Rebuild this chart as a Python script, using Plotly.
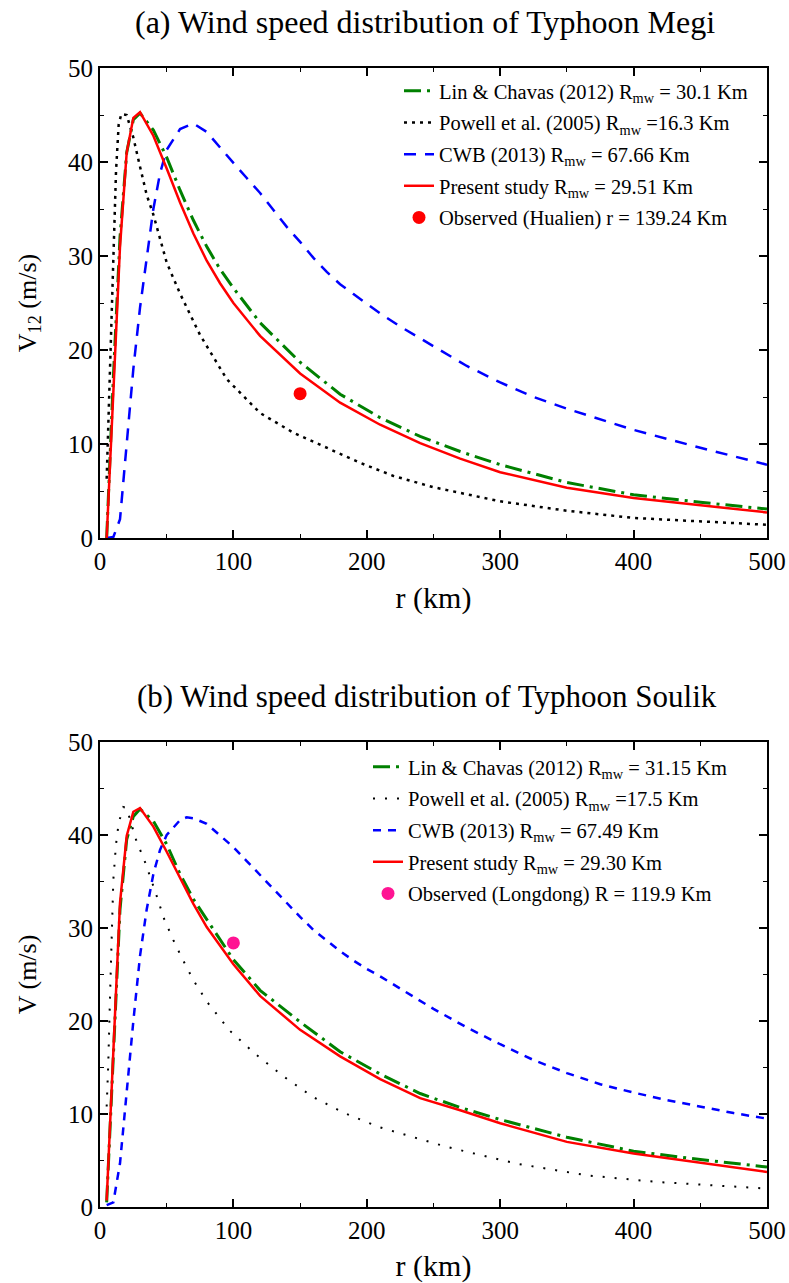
import plotly.graph_objects as go

W, H = 789, 1283
FONT = "Liberation Serif"

# ---------------- (a) Typhoon Megi ----------------
r_lin_a = [5, 10, 15, 20, 25, 30, 40, 50, 60, 70, 80, 90, 100, 120, 150, 180, 210, 240, 270, 300, 350, 400, 450, 500]
v_lin_a = [0, 17, 32, 41, 44.5, 45.2, 43.4, 40.5, 37, 33.8, 31, 28.6, 26.6, 22.9, 18.7, 15.3, 12.8, 10.8, 9.2, 7.8, 5.9, 4.6, 3.8, 3.08]

r_pow_a = [5, 6, 8, 10, 12, 14, 16, 20, 25, 30, 35, 40, 50, 60, 75, 95, 120, 145, 170, 195, 220, 250, 300, 350, 400, 450, 500]
v_pow_a = [6.3, 11, 22.5, 31, 39, 44, 45.1, 45, 42.6, 39.5, 36.5, 34.4, 29.3, 26.0, 21.6, 16.9, 13.3, 11.2, 9.6, 8.0, 6.6, 5.4, 3.9, 2.9, 2.13, 1.75, 1.41]

r_cwb_a = [5, 10, 15, 20, 25, 30, 35, 40, 45, 50, 60, 70, 80, 90, 100, 110, 120, 130, 140, 150, 160, 170, 180, 190, 200,
           210, 225, 250, 275, 300, 325, 350, 375, 400, 450, 500]
v_cwb_a = [0, 0.1, 2, 10, 18, 24.5, 30, 35, 38.8, 41.3, 43.5, 44.1, 43.2, 41.5, 39.9, 38.3, 36.7, 34.9, 33.1, 31.5, 29.8, 28.3,
           27.0, 25.95, 24.9, 23.9, 22.5, 20.4, 18.3, 16.55, 15.0, 13.75, 12.6, 11.5, 9.6, 7.8]

r_pre_a = [5, 10, 15, 20, 25, 30, 40, 50, 60, 70, 80, 90, 100, 120, 150, 180, 210, 240, 270, 300, 350, 400, 450, 500]
v_pre_a = [0, 16, 31, 41, 44.7, 45.3, 42.8, 39.3, 35.7, 32.4, 29.5, 27.1, 25.0, 21.5, 17.5, 14.4, 12.05, 10.1, 8.45, 7.0, 5.35, 4.25, 3.48, 2.72]

r_obs_a = [150]
v_obs_a = [15.35]

# ---------------- (b) Typhoon Soulik ----------------
r_lin_b = [5, 10, 15, 20, 25, 30, 40, 50, 60, 70, 80, 90, 100, 120, 150, 180, 210, 240, 270, 300, 350, 400, 450, 500]
v_lin_b = [0.5, 17, 32, 39.5, 42, 42.8, 41.5, 39.0, 35.8, 33.1, 30.9, 28.7, 26.6, 23.3, 19.9, 16.7, 14.3, 12.2, 10.7, 9.4, 7.5, 6.0, 5.1, 4.3]

r_pow_b = [5, 6.2, 7.5, 8.7, 10, 12, 14, 17.5, 20, 27, 34, 41, 48, 55, 62, 70, 80, 97, 116, 138, 160, 184, 209, 260, 312, 365, 417, 500]
v_pow_b = [10.8, 15.4, 22.6, 29.8, 35.2, 39, 41.3, 43, 42.9, 39.5, 37, 34.1, 31, 28.7, 26.6, 24.4, 22.1, 19.0, 16.5, 14.0, 11.8, 10.05, 8.6, 6.46, 4.67, 3.4, 2.7, 1.98]

r_cwb_b = [5, 10, 15, 20, 25, 30, 35, 40, 45, 50, 60, 65, 70, 80, 90, 100, 110, 120, 130, 140, 150, 160, 170, 180, 190, 200,
           210, 225, 250, 275, 300, 325, 350, 375, 400, 425, 450, 475, 500]
v_cwb_b = [0.2, 0.5, 4.7, 12.6, 20, 27, 32, 35.8, 38.4, 40, 41.6, 41.9, 41.8, 41.2, 40, 38.7, 37.2, 35.7, 34.1, 32.6, 31.2,
           29.8, 28.6, 27.5, 26.5, 25.6, 24.8, 23.5, 21.3, 19.3, 17.5, 15.8, 14.4, 13.2, 12.3, 11.5, 10.8, 10.1, 9.5]

r_pre_b = [5, 10, 15, 20, 25, 30, 40, 50, 60, 70, 80, 90, 100, 120, 150, 180, 210, 240, 270, 300, 350, 400, 450, 500]
v_pre_b = [0.7, 17.5, 32.7, 39.9, 42.5, 42.9, 40.9, 38.2, 35.4, 32.6, 30.1, 28.1, 26.1, 22.7, 19.05, 16.2, 13.75, 11.7, 10.4, 9.0, 7.0, 5.75, 4.75, 3.77]

r_obs_b = [100]
v_obs_b = [28.4]

# ---------------- labels ----------------
names_a = [
    "Lin & Chavas (2012) R<sub>mw</sub> = 30.1 Km",
    "Powell et al. (2005) R<sub>mw</sub> =16.3 Km",
    "CWB (2013) R<sub>mw</sub> = 67.66 Km",
    "Present study R<sub>mw</sub> = 29.51 Km",
    "Observed (Hualien) r = 139.24 Km",
]
names_b = [
    "Lin & Chavas (2012) R<sub>mw</sub> = 31.15 Km",
    "Powell et al. (2005) R<sub>mw</sub> =17.5 Km",
    "CWB (2013) R<sub>mw</sub> = 67.49 Km",
    "Present study R<sub>mw</sub> = 29.30 Km",
    "Observed (Longdong) R = 119.9 Km",
]
title_a = "(a) Wind speed distribution of Typhoon Megi"
title_b = "(b) Wind speed distribution of Typhoon Soulik"
x_title = "r (km)"
y_title_a = "V<sub>12</sub> (m/s)"
y_title_b = "V (m/s)"

fig = go.Figure()

def add_panel(xa, ya, leg, rl, vl, rp, vp, rc, vc, rs, vs, ro, vo, names, obs_color, pow_dash, pow_w, cwb_dash):
    fig.add_trace(go.Scatter(x=rl, y=vl, mode="lines", name=names[0], xaxis=xa, yaxis=ya, legend=leg,
                             legendgroup=leg + "1",
                             line=dict(color="#008000", width=3, dash="17px,6px,3px,6px")))
    fig.add_trace(go.Scatter(x=rp, y=vp, mode="lines", name=names[1], xaxis=xa, yaxis=ya, legend=leg,
                             legendgroup=leg + "2",
                             line=dict(color="black", width=pow_w, dash=pow_dash)))
    fig.add_trace(go.Scatter(x=rc, y=vc, mode="lines", name=names[2], xaxis=xa, yaxis=ya, legend=leg,
                             legendgroup=leg + "3",
                             line=dict(color="#0000FF", width=2.5, dash=cwb_dash)))
    fig.add_trace(go.Scatter(x=rs, y=vs, mode="lines", name=names[3], xaxis=xa, yaxis=ya, legend=leg,
                             legendgroup=leg + "4",
                             line=dict(color="#FF0000", width=2.5)))
    fig.add_trace(go.Scatter(x=ro, y=vo, mode="markers", name=names[4], xaxis=xa, yaxis=ya, legend=leg,
                             legendgroup=leg + "5",
                             marker=dict(color=obs_color, size=13)))

add_panel("x", "y", "legend", r_lin_a, v_lin_a, r_pow_a, v_pow_a, r_cwb_a, v_cwb_a, r_pre_a, v_pre_a,
          r_obs_a, v_obs_a, names_a, "#FF0000", "3px,5px", 2.5, "12px,9px")
add_panel("x2", "y2", "legend2", r_lin_b, v_lin_b, r_pow_b, v_pow_b, r_cwb_b, v_cwb_b, r_pre_b, v_pre_b,
          r_obs_b, v_obs_b, names_b, "#FF1493", "2px,10px", 2, "8px,7px")

def xax(domain, anchor):
    return dict(domain=domain, anchor=anchor, range=[0, 500], dtick=100, tick0=0,
                showline=True, linecolor="black", linewidth=2, mirror="allticks",
                ticks="inside", ticklen=8, tickwidth=1.5, tickcolor="black",
                minor=dict(ticks="inside", ticklen=4, dtick=50, tickcolor="black", tickwidth=1),
                showgrid=False, zeroline=False, automargin=False,
                tickfont=dict(family=FONT, size=25, color="black"),
                title=dict(text=x_title, font=dict(family=FONT, size=30, color="black"), standoff=13))

def yax(domain, anchor, title):
    return dict(domain=domain, anchor=anchor, range=[0, 50], dtick=10, tick0=0,
                showline=True, linecolor="black", linewidth=2, mirror="allticks",
                ticks="inside", ticklen=8, tickwidth=1.5, tickcolor="black",
                minor=dict(ticks="inside", ticklen=4, dtick=5, tickcolor="black", tickwidth=1),
                showgrid=False, zeroline=False, automargin=False,
                tickfont=dict(family=FONT, size=25, color="black"),
                title=dict(text=title, font=dict(family=FONT, size=26, color="black"), standoff=24))

xd = [100 / W, 767 / W]
yd_a = [(H - 538) / H, (H - 68) / H]
yd_b = [(H - 1207) / H, (H - 742) / H]

legend_common = dict(font=dict(family=FONT, size=20.5, color="black"), bgcolor="rgba(0,0,0,0)",
                     xanchor="left", yanchor="top", tracegroupgap=2, borderwidth=0)

fig.update_layout(
    width=W, height=H,
    margin=dict(l=0, r=0, t=0, b=0),
    paper_bgcolor="white", plot_bgcolor="white",
    font=dict(family=FONT, color="black"),
    xaxis=xax(xd, "y"),
    yaxis=yax(yd_a, "x", y_title_a),
    xaxis2=xax(xd, "y2"),
    yaxis2=yax(yd_b, "x2", y_title_b),
    legend=dict(x=399 / W, y=(H - 71) / H, **legend_common),
    legend2=dict(x=368 / W, y=(H - 747) / H, **legend_common),
    annotations=[
        dict(text=title_a, x=425 / W, y=(H - 22) / H, xref="paper", yref="paper",
             showarrow=False, font=dict(family=FONT, size=32, color="black"), xanchor="center", yanchor="middle"),
        dict(text=title_b, x=427 / W, y=(H - 696) / H, xref="paper", yref="paper",
             showarrow=False, font=dict(family=FONT, size=31, color="black"), xanchor="center", yanchor="middle"),
    ],
)

fig.write_html("out.html")
